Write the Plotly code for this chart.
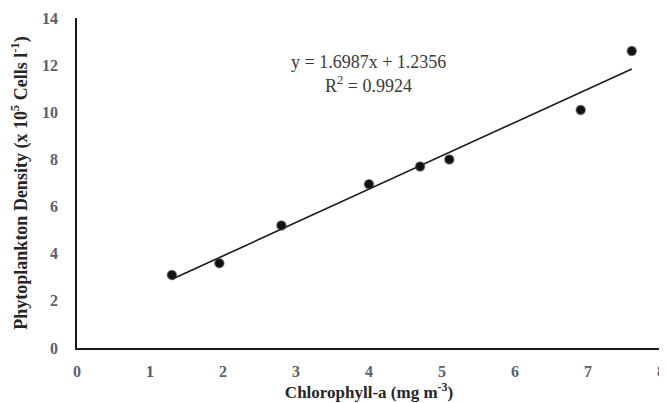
import numpy as np
import plotly.graph_objects as go

chl_a = [1.3, 1.95, 2.8, 4.0, 4.7, 5.1, 6.9, 7.6]
density = [3.1, 3.6, 5.2, 6.95, 7.7, 8.0, 10.1, 12.6]
x_ticks = [0, 1, 2, 3, 4, 5, 6, 7, 8]
y_ticks = [0, 2, 4, 6, 8, 10, 12, 14]
eq_text = "y = 1.6987x + 1.2356"
r2_text = "R<sup>2</sup> = 0.9924"

slope, intercept = np.polyfit(chl_a, density, 1)
fit_x = [min(chl_a), max(chl_a)]
fit_y = [slope * v + intercept for v in fit_x]

fig = go.Figure()
fig.add_trace(go.Scatter(x=fit_x, y=fit_y, mode="lines",
                         line=dict(color="#1a1a1a", width=1.6), showlegend=False))
fig.add_trace(go.Scatter(x=chl_a, y=density, mode="markers",
                         marker=dict(color="#111111", size=9,
                                     line=dict(color="rgba(60,60,60,0.6)", width=1.5)),
                         showlegend=False))

ann_font = dict(family="Liberation Serif", size=18, color="#3a3a3a")
fig.add_annotation(x=(368 - 77) / 584, xref="paper", y=1.0 - (62 - 18) / 330, yref="paper",
                   xanchor="center", yanchor="middle",
                   text=eq_text, showarrow=False, font=ann_font)
fig.add_annotation(x=(368 - 77) / 584, xref="paper", y=1.0 - (85 - 18) / 330, yref="paper",
                   xanchor="center", yanchor="middle",
                   text=r2_text, showarrow=False, font=ann_font)

tick_font = dict(family="Liberation Serif", size=16, color="#596070", weight="bold")

# page body has an 8px default margin; size the figure to fit the window
fig.update_layout(
    width=659, height=395,
    margin=dict(l=69, r=6, t=10, b=55),
    paper_bgcolor="white", plot_bgcolor="white",
    xaxis=dict(range=[0, 8], tickvals=x_ticks, showgrid=False, zeroline=False,
               showline=True, linecolor="#1a1a1a", linewidth=1.5, automargin=False,
               ticks="", ticklabelstandoff=8, tickfont=tick_font,
               title=dict(text="<b>Chlorophyll-a (mg m<sup>-3</sup>)</b>",
                          font=dict(family="Liberation Serif", size=17, color="#262626"),
                          standoff=4)),
    yaxis=dict(range=[0, 14], tickvals=y_ticks, showgrid=False, zeroline=False,
               showline=True, linecolor="#1a1a1a", linewidth=1.5, automargin=False,
               ticks="", ticklabelstandoff=14, tickfont=tick_font,
               title=dict(text="<b>Phytoplankton Density (x 10<sup>5</sup> Cells l<sup>-1</sup>)</b>",
                          font=dict(family="Liberation Serif", size=18, color="#262626"),
                          standoff=10)),
)

fig.write_html("out.html")
